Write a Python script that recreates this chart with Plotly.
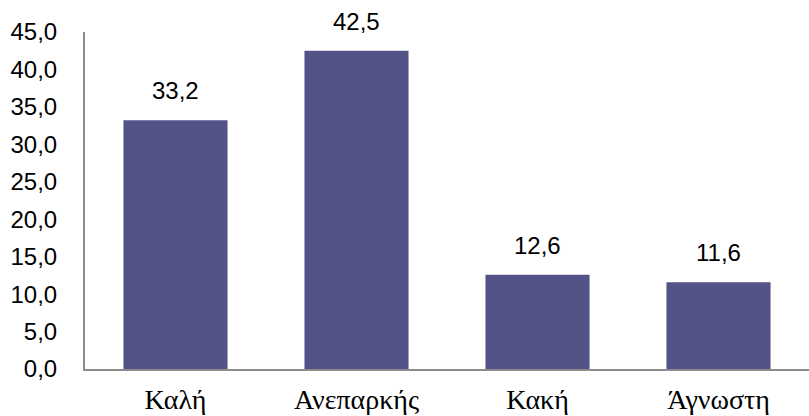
import plotly.graph_objects as go

categories = ["Καλή", "Ανεπαρκής", "Κακή", "Άγνωστη"]
values = [33.2, 42.5, 12.6, 11.6]
value_labels = ["33,2", "42,5", "12,6", "11,6"]
tick_vals = [0, 5, 10, 15, 20, 25, 30, 35, 40, 45]
tick_text = ["0,0", "5,0", "10,0", "15,0", "20,0", "25,0", "30,0", "35,0", "40,0", "45,0"]

fig = go.Figure()
fig.add_trace(go.Bar(x=categories, y=values, marker=dict(color="#525287", line=dict(width=0)),
                     hoverinfo="skip"))

for c, v, t in zip(categories, values, value_labels):
    fig.add_annotation(x=c, y=v, text=t, showarrow=False, yanchor="bottom", yshift=14,
                       font=dict(family="Liberation Sans, Arial", size=24, color="#000000"))

fig.update_layout(
    width=809, height=416,
    margin=dict(l=85, r=0, t=32, b=47),
    paper_bgcolor="white", plot_bgcolor="white",
    bargap=0.425,
    showlegend=False,
    xaxis=dict(showline=True, linecolor="#8c8c8c", linewidth=2, ticks="", showgrid=False,
               tickfont=dict(family="Liberation Serif, Times New Roman", size=28, color="#000000"),
               ticklabelstandoff=4),
    yaxis=dict(range=[0, 45], tickvals=tick_vals, ticktext=tick_text, showline=True,
               linecolor="#8c8c8c", linewidth=2, ticks="", showgrid=False, zeroline=False,
               tickfont=dict(family="Liberation Sans, Arial", size=24, color="#000000"),
               ticklabelstandoff=21),
)

fig.write_html("out.html", config={"displayModeBar": False},
               post_script="document.body.style.margin='0px';")
